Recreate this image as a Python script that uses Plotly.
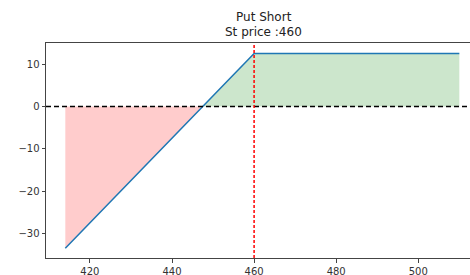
import plotly.graph_objects as go

strike = 460
premium = 12.5
prices = [414, 447.5, 460, 510]
payoff = [-33.5, 0, 12.5, 12.5]
loss_x = [414, 447.5]
loss_y = [-33.5, 0]
gain_x = [447.5, 460, 510]
gain_y = [0, 12.5, 12.5]
x_ticks = [420, 440, 460, 480, 500]
y_ticks = [-30, -20, -10, 0, 10]
title_lines = ['Put Short', 'St price :' + str(strike)]

fig = go.Figure()
fig.add_trace(go.Scatter(x=loss_x, y=loss_y, fill='tozeroy', mode='none',
                         fillcolor='rgba(255,0,0,0.2)', hoverinfo='skip'))
fig.add_trace(go.Scatter(x=gain_x, y=gain_y, fill='tozeroy', mode='none',
                         fillcolor='rgba(0,128,0,0.2)', hoverinfo='skip'))
fig.add_trace(go.Scatter(x=prices, y=payoff, mode='lines',
                         line=dict(color='#1f77b4', width=1.5)))
fig.add_hline(y=0, line=dict(color='black', width=1.5, dash='5px,3px'))
fig.add_vline(x=strike, line=dict(color='red', width=1.5, dash='3px,2px'))

fig.update_layout(
    width=470, height=275,
    margin=dict(l=46, r=0, t=43, b=17, autoexpand=False),
    paper_bgcolor='white', plot_bgcolor='white',
    showlegend=False,
    font=dict(family='DejaVu Sans', size=10, color='#333333'),
)
fig.add_annotation(text=title_lines[0], xref='paper', yref='paper', x=0.514, y=1,
                   yshift=26, xanchor='center', yanchor='middle', showarrow=False,
                   font=dict(size=12, color='#222222'))
fig.add_annotation(text=title_lines[1], xref='paper', yref='paper', x=0.514, y=1,
                   yshift=11, xanchor='center', yanchor='middle', showarrow=False,
                   font=dict(size=12, color='#222222'))
fig.update_xaxes(range=[409.3, 512.6], tickvals=x_ticks, showgrid=False, zeroline=False,
                 showline=True, linecolor='#444444', linewidth=1, mirror=True,
                 ticks='outside', ticklen=3.5, tickcolor='#444444', automargin=False)
fig.update_yaxes(range=[-35.8, 15.0], tickvals=y_ticks, showgrid=False, zeroline=False,
                 showline=True, linecolor='#444444', linewidth=1, mirror=False,
                 ticks='outside', ticklen=3.5, tickcolor='#444444', automargin=False)
fig.write_html("out.html", config={'displayModeBar': False},
               post_script="document.body.style.margin='0';document.body.style.overflow='hidden';")
